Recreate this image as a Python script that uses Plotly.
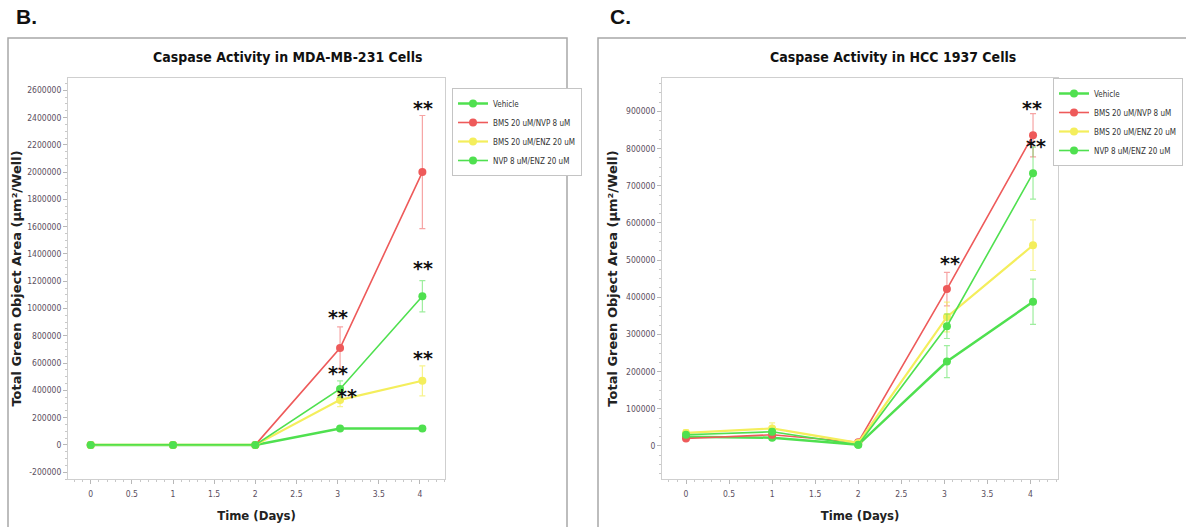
import plotly.graph_objects as go

# ---------------- data ----------------
days = [0, 1, 2, 3.03, 4.03]
series_names = ["Vehicle", "BMS 20 uM/NVP 8 uM", "BMS 20 uM/ENZ 20 uM", "NVP 8 uM/ENZ 20 uM"]

mda_vehicle = [0, 0, 0, 120000, 120000]
mda_vehicle_err = [5000, 3000, 3000, 10000, 10000]
mda_bms_nvp = [0, 0, 0, 710000, 2000000]
mda_bms_nvp_err = [5000, 3000, 3000, 155000, 415000]
mda_bms_enz = [0, 0, 0, 330000, 470000]
mda_bms_enz_err = [20000, 3000, 3000, 50000, 110000]
mda_nvp_enz = [0, 0, 0, 410000, 1090000]
mda_nvp_enz_err = [5000, 3000, 3000, 60000, 115000]

hcc_vehicle = [25000, 22000, 3000, 227000, 388000]
hcc_vehicle_err = [5000, 5000, 3000, 43000, 61000]
hcc_bms_nvp = [20000, 30000, 10000, 422000, 836000]
hcc_bms_nvp_err = [5000, 8000, 3000, 45000, 58000]
hcc_bms_enz = [35000, 47000, 8000, 347000, 540000]
hcc_bms_enz_err = [8000, 15000, 4000, 40000, 68000]
hcc_nvp_enz = [30000, 38000, 3000, 322000, 734000]
hcc_nvp_enz_err = [5000, 8000, 3000, 33000, 70000]

mda_star_x = [4.04, 4.04, 4.04, 3.01, 3.01, 3.12]
mda_star_y = [2470000, 1300000, 640000, 940000, 530000, 360000]
hcc_star_x = [4.02, 4.07, 3.06]
hcc_star_y = [910000, 808000, 491000]

x_ticks = [0, 0.5, 1, 1.5, 2, 2.5, 3, 3.5, 4]
mda_yticks = list(range(-200000, 2600001, 200000))
hcc_yticks = list(range(0, 900001, 100000))

# ---------------- style ----------------
W, H = 1186, 527
NARROW = "Liberation Sans Narrow, Arial Narrow, DejaVu Sans Condensed, sans-serif"
colors = ["#4fe04f", "#ee5a5a", "#f4ee5c", "#4fe04f"]
err_colors = ["rgba(79,224,79,0.55)", "rgba(238,90,90,0.55)", "rgba(244,238,92,0.7)", "rgba(79,224,79,0.55)"]
widths = [2.5, 1.6, 2.2, 1.6]


def px_x(p):
    return p / W


def px_y(p):
    return 1 - p / H


fig = go.Figure()

panels = [
    ("x", "y", "legend", [mda_vehicle, mda_bms_nvp, mda_bms_enz, mda_nvp_enz],
     [mda_vehicle_err, mda_bms_nvp_err, mda_bms_enz_err, mda_nvp_enz_err]),
    ("x2", "y2", "legend2", [hcc_vehicle, hcc_bms_nvp, hcc_bms_enz, hcc_nvp_enz],
     [hcc_vehicle_err, hcc_bms_nvp_err, hcc_bms_enz_err, hcc_nvp_enz_err]),
]

for xa, ya, leg, vals, errs in panels:
    for i in range(4):
        fig.add_trace(go.Scatter(
            x=days, y=vals[i], name=series_names[i], mode="lines+markers",
            xaxis=xa, yaxis=ya, legend=leg, legendrank=i + 1,
            line=dict(color=colors[i], width=widths[i]),
            marker=dict(color=colors[i], size=8, symbol="circle"),
            error_y=dict(type="data", array=errs[i], visible=True,
                         color=err_colors[i], thickness=1.2, width=3),
        ))

# asterisk annotations
STAR_FONT = dict(family="DejaVu Sans", size=19, color="#111")
for sx, sy in zip(mda_star_x, mda_star_y):
    fig.add_annotation(x=sx, y=sy, xref="x", yref="y", text="<b>**</b>", showarrow=False,
                       xanchor="center", yanchor="middle", font=STAR_FONT)
for sx, sy in zip(hcc_star_x, hcc_star_y):
    fig.add_annotation(x=sx, y=sy, xref="x2", yref="y2", text="<b>**</b>", showarrow=False,
                       xanchor="center", yanchor="middle", font=STAR_FONT)

axis_common = dict(
    showgrid=False, zeroline=False, showline=True, linecolor="#cfcfcf", linewidth=1,
    mirror=True, ticks="outside", ticklen=4, tickcolor="#b8b8b8", automargin=False,
    tickfont=dict(family=NARROW, size=8.5, color="#5a4e5e"),
)
x_minor = dict(ticks="outside", ticklen=2, tickcolor="#c8c8c8", dtick=0.1, tick0=0)
ytitle = "Total Green Object Area (µm²/Well)"
ytitle_font = dict(family="DejaVu Sans", size=13, color="#222")
xtitle_font = dict(family=NARROW, size=13, color="#222")

legend_common = dict(bordercolor="#c4c4c4", borderwidth=1, bgcolor="white",
                     font=dict(family=NARROW, size=8, color="#333"),
                     itemwidth=30, tracegroupgap=0)

fig.update_layout(
    width=W, height=H, margin=dict(l=0, r=0, t=0, b=0, autoexpand=False), autosize=False,
    paper_bgcolor="white", plot_bgcolor="white",
    xaxis=dict(domain=[px_x(68), px_x(445)], anchor="y", range=[-0.276, 4.305],
               tickvals=x_ticks, ticktext=[f"{t:g}" for t in x_ticks], ticklabelstandoff=3,
               minor=x_minor,
               title=dict(text="<b>Time (Days)</b>", font=xtitle_font, standoff=12),
               **axis_common),
    yaxis=dict(domain=[px_y(479), px_y(78)], anchor="x", range=[-250000, 2690000],
               tickvals=mda_yticks, ticktext=[str(v) for v in mda_yticks],
               minor=dict(ticks="outside", ticklen=2, tickcolor="#c8c8c8", dtick=50000, tick0=0),
               title=dict(text="<b>" + ytitle + "</b>", font=ytitle_font, standoff=2),
               **axis_common),
    xaxis2=dict(domain=[px_x(662), px_x(1058)], anchor="y2", range=[-0.279, 4.32],
                tickvals=x_ticks, ticktext=[f"{t:g}" for t in x_ticks], ticklabelstandoff=3,
                minor=x_minor,
                title=dict(text="<b>Time (Days)</b>", font=xtitle_font, standoff=12),
                **axis_common),
    yaxis2=dict(domain=[px_y(479), px_y(78)], anchor="x2", range=[-89000, 990000],
                tickvals=hcc_yticks, ticktext=[str(v) for v in hcc_yticks],
                minor=dict(ticks="outside", ticklen=2, tickcolor="#c8c8c8", dtick=25000, tick0=0),
                title=dict(text="<b>" + ytitle + "</b>", font=ytitle_font, standoff=5),
                **axis_common),
    legend=dict(x=px_x(452), y=px_y(88), xanchor="left", yanchor="top", **legend_common),
    legend2=dict(x=px_x(1183), y=px_y(78), xanchor="right", yanchor="top", **legend_common),
    showlegend=True,
)

# titles and panel labels
TITLE_FONT = dict(family=NARROW, size=14, color="#111")
fig.add_annotation(x=px_x(287), y=px_y(57), xref="paper", yref="paper",
                   xanchor="center", yanchor="middle",
                   text="<b>Caspase Activity in MDA-MB-231 Cells</b>", showarrow=False,
                   font=TITLE_FONT)
fig.add_annotation(x=px_x(893), y=px_y(57), xref="paper", yref="paper",
                   xanchor="center", yanchor="middle",
                   text="<b>Caspase Activity in HCC 1937 Cells</b>", showarrow=False,
                   font=TITLE_FONT)
LABEL_FONT = dict(family="Liberation Sans, Arial, sans-serif", size=21, color="#111")
fig.add_annotation(x=px_x(14), y=px_y(17), xref="paper", yref="paper", xanchor="left",
                   yanchor="middle", text="<b>B.</b>", showarrow=False, font=LABEL_FONT)
fig.add_annotation(x=px_x(608), y=px_y(17), xref="paper", yref="paper", xanchor="left",
                   yanchor="middle", text="<b>C.</b>", showarrow=False, font=LABEL_FONT)

# panel frames
fig.add_shape(type="rect", xref="paper", yref="paper", x0=px_x(8), x1=px_x(567),
              y0=px_y(540), y1=px_y(38), line=dict(color="#a8a8a8", width=1.5), layer="below")
fig.add_shape(type="rect", xref="paper", yref="paper", x0=px_x(598), x1=px_x(1195),
              y0=px_y(540), y1=px_y(38), line=dict(color="#a8a8a8", width=1.5), layer="below")

fig.write_html(
    "out.html",
    config={"responsive": False, "displayModeBar": False},
    post_script="document.body.style.margin='0';document.body.style.overflow='hidden';",
)
